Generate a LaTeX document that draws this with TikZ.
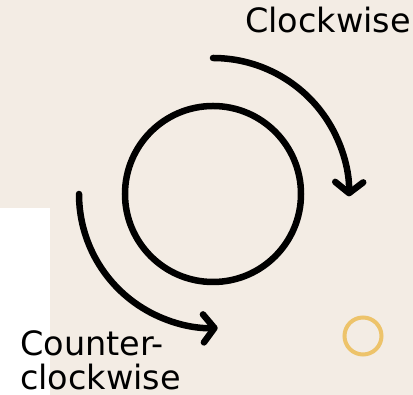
\documentclass[tikz,border=0pt]{standalone}
\usepackage{fontspec}
\setmainfont{DejaVu Sans}
\usetikzlibrary{arrows.meta}
\definecolor{paper}{HTML}{F3ECE4}
\definecolor{ringgold}{HTML}{EDC36A}
\tikzset{
  label text/.style={inner sep=0pt, font=\fontsize{33.5}{34}\selectfont, text=black},
  turn arrow/.style={line width=6.5pt, line cap=round, line join=round,
    -{Straight Barb[length=11pt, width=28pt, line cap=round, line join=round]}},
}
\begin{document}
\begin{tikzpicture}[x=1pt, y=1pt]
  % canvas
  \fill[paper] (0,0) rectangle (413,395);
  \fill[white] (0,0) rectangle (50,187);
  \useasboundingbox (0,0) rectangle (413,395);

  % central ring
  \node[circle, draw=black, line width=6.5pt, minimum size=176pt, inner sep=0pt] (ring) at (213,201) {};

  % clockwise arrow
  \draw[turn arrow] (ring.center) ++(90:136) arc[start angle=90, end angle=-1, radius=136];
  % counter-clockwise arrow
  \draw[turn arrow] (ring.center) ++(180:134) arc[start angle=180, end angle=272, radius=134];

  % small gold ring
  \node[circle, draw=ringgold, line width=4pt, minimum size=37pt, inner sep=0pt] (dot) at (363,59) {};

  % labels
  \node[label text, anchor=base west] (cw) at (245,362) {Clockwise};
  \node[label text, anchor=south west, align=left] (ccw) at (20,5) {Counter-\\clockwise};
\end{tikzpicture}
\end{document}
